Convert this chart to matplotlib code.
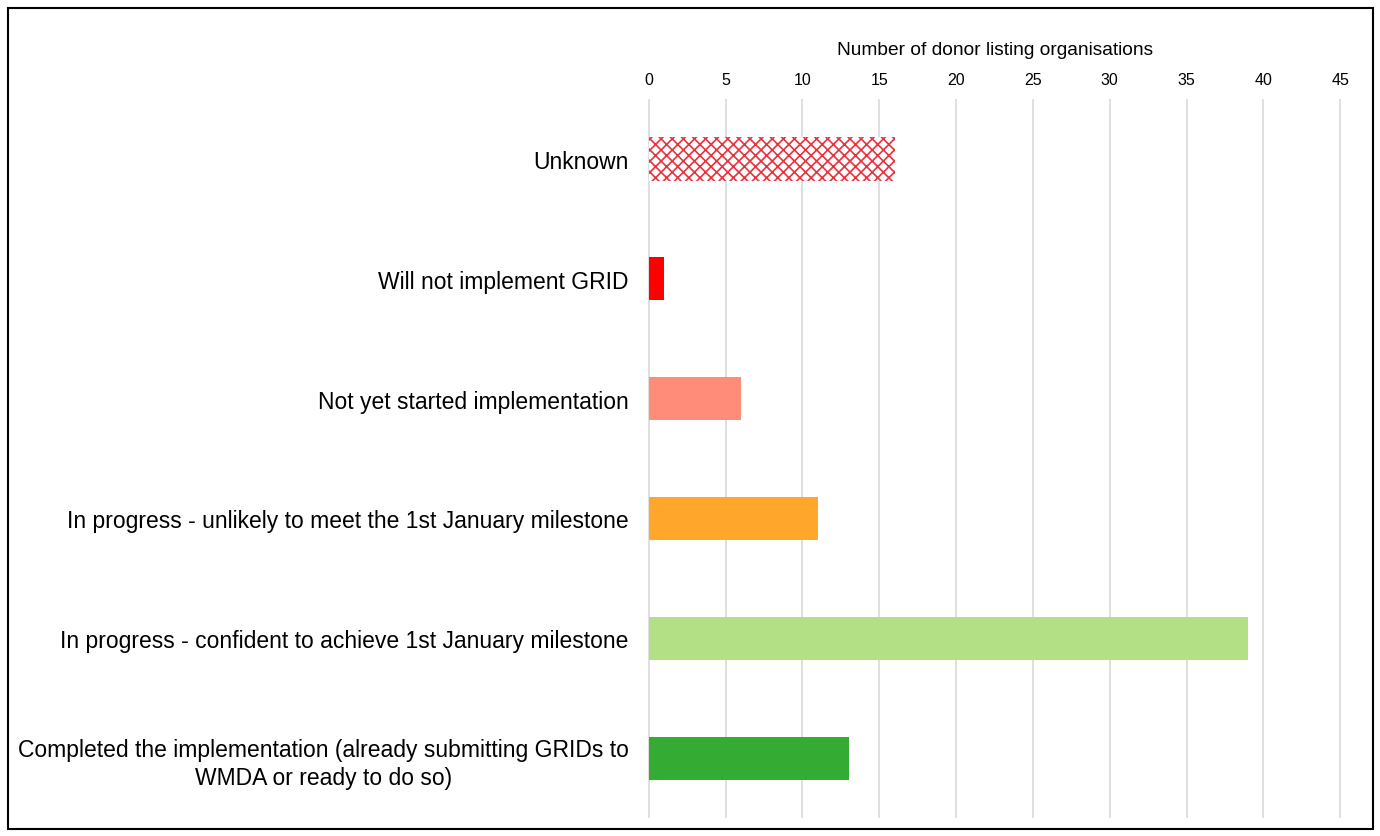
import matplotlib
matplotlib.use('Agg')
import matplotlib.pyplot as plt
from matplotlib.patches import Rectangle
import numpy as np

categories = [
    "Completed the implementation (already submitting GRIDs to\nWMDA or ready to do so)",
    "In progress - confident to achieve 1st January milestone",
    "In progress - unlikely to meet the 1st January milestone",
    "Not yet started implementation",
    "Will not implement GRID",
    "Unknown",
]
counts = [13, 39, 11, 6, 1, 16]
colors = ["#34AC34", "#B3E085", "#FFA62B", "#FF8C78", "#FF0000", "white"]
xticks = [0, 5, 10, 15, 20, 25, 30, 35, 40, 45]

plt.rcParams['font.family'] = ['Liberation Sans', 'DejaVu Sans']
plt.rcParams['hatch.linewidth'] = 1.2
plt.rcParams['hatch.color'] = '#E8323C'

fig = plt.figure(figsize=(13.8, 8.37), dpi=100)
ax = fig.add_axes([0.4696, 0.0215, 0.5022, 0.8590])

y = np.arange(len(categories))
bars = ax.barh(y, counts, height=0.36, color=colors, zorder=3)
# the unknown bar is hatched
bars[-1].set_hatch('xxx')
bars[-1].set_edgecolor('#E8323C')
bars[-1].set_linewidth(0)

ax.set_ylim(-0.5, len(categories) - 0.5)
ax.set_xlim(-0.05, 45.05)
ax.set_xticks(xticks)
ax.xaxis.tick_top()
ax.xaxis.set_label_position('top')
ax.set_xlabel("Number of donor listing organisations", fontsize=13.8, va='center')
ax.xaxis.set_label_coords(0.5, 1.069)
ax.tick_params(axis='x', length=0, labelsize=11.5, pad=9)
ax.tick_params(axis='y', length=0, labelsize=16.5, pad=14)
ax.set_yticks(y)
ax.set_yticklabels(categories, multialignment='center', linespacing=1.3)
ax.grid(True, axis='x', color='#D9D9D9', linewidth=1.2, zorder=0)
for s in ax.spines.values():
    s.set_visible(False)

fig.patches.append(Rectangle((0.006, 0.008), 0.989, 0.981, transform=fig.transFigure,
                             fill=False, edgecolor='black', linewidth=1.5))

fig.savefig("out.png", dpi=100)
